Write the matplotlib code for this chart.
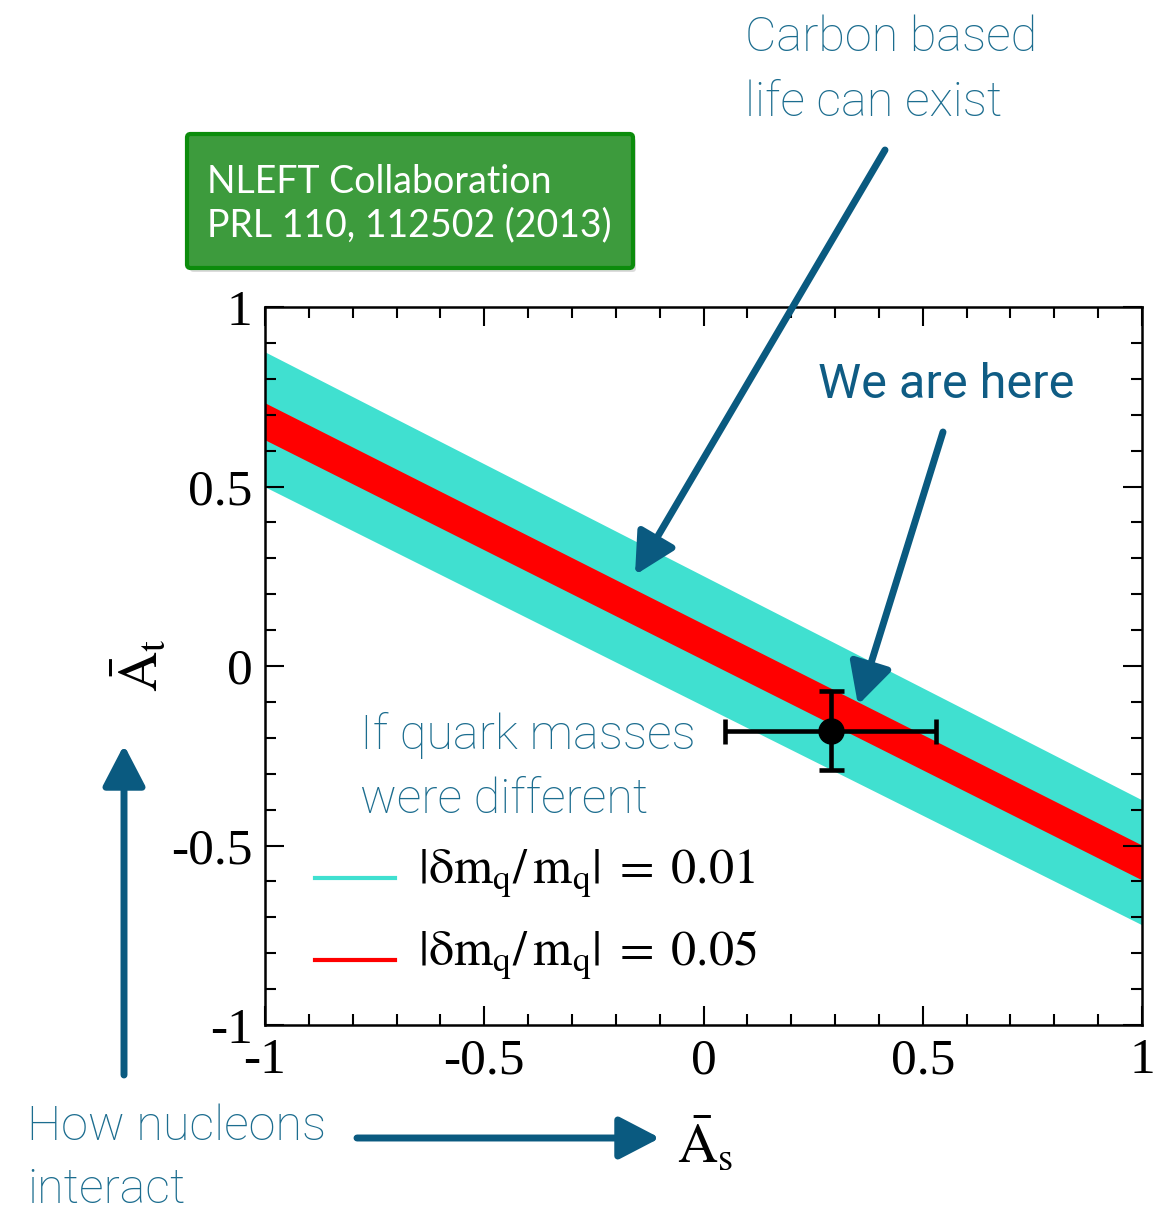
import numpy as np
import matplotlib.pyplot as plt
from matplotlib.patches import FancyBboxPatch, FancyArrowPatch
from matplotlib.ticker import MultipleLocator

plt.rcParams['mathtext.fontset'] = 'stix'

# band edges at x = -1 and x = 1
band_x = [-1, 1]
cyan_upper = [0.875, -0.373]
cyan_lower = [0.499, -0.721]
red_upper = [0.733, -0.499]
red_lower = [0.630, -0.596]

# "we are here" point
pt_x = [0.29]
pt_y = [-0.18]
pt_xerr = [0.24]
pt_yerr = [0.11]

tick_vals = [-1, -0.5, 0, 0.5, 1]
tick_labels = ['-1', '-0.5', '0', '0.5', '1']
legend_labels = [r'$|\mathrm{\delta m_q}/\,\mathrm{m_q}|\;=\;0.01$',
                 r'$|\mathrm{\delta m_q}/\,\mathrm{m_q}|\;=\;0.05$']

W, H = 1173, 1212
fig = plt.figure(figsize=(W / 100, H / 100), dpi=100)
ax = fig.add_axes([265 / W, 1 - 1025 / H, 877 / W, 718 / H])

cyan = '#40e0d0'
red = '#ff0000'
ax.fill_between(band_x, cyan_lower, cyan_upper, color=cyan, lw=0)
ax.fill_between(band_x, red_lower, red_upper, color=red, lw=0)
ax.errorbar(pt_x, pt_y, xerr=pt_xerr, yerr=pt_yerr, fmt='o', color='black',
            ms=18, elinewidth=3.3, capsize=9, capthick=3.3, zorder=5)

ax.set_xlim(-1, 1)
ax.set_ylim(-1, 1)
ax.xaxis.set_minor_locator(MultipleLocator(0.1))
ax.yaxis.set_minor_locator(MultipleLocator(0.1))
ax.tick_params(which='both', direction='in', top=True, right=True, width=1.5)
ax.tick_params(which='major', length=14, labelsize=37, pad=9)
ax.tick_params(which='minor', length=8)
ax.set_xticks(tick_vals)
ax.set_xticklabels(tick_labels, family='Liberation Serif')
ax.set_yticks(tick_vals)
ax.set_yticklabels(tick_labels, family='Liberation Serif')
for s in ax.spines.values():
    s.set_linewidth(1.8)

# legend lines drawn by hand in axes fraction
leg = [(cyan, legend_labels[0], 878), (red, legend_labels[1], 960)]
for col, lab, py in leg:
    ax.plot([(315 - 265) / 877, (395 - 265) / 877], [(1025 - py) / 718] * 2,
            color=col, lw=3, transform=ax.transAxes, clip_on=False)
    ax.text((418 - 265) / 877, (1025 - py + 4) / 718, lab, transform=ax.transAxes,
            fontsize=36, va='center', ha='left')

# axis labels
fig.text(140 / W, 1 - 665 / H, r'$\bar{\mathrm{A}}_\mathrm{t}$', fontsize=40,
         rotation=90, ha='center', va='center')
fig.text(705 / W, 1 - 1145 / H, r'$\bar{\mathrm{A}}_\mathrm{s}$', fontsize=40,
         ha='center', va='center')

# annotation text
blue_txt = '#1c6d8f'
afont = dict(family='Roboto', weight='light', color=blue_txt, fontsize=35)
fig.text(745 / W, 1 - 38 / H, 'Carbon based', va='center', **afont)
fig.text(745 / W, 1 - 103 / H, 'life can exist', va='center', **afont)
fig.text(360 / W, 1 - 735 / H, 'If quark masses', va='center', **afont)
fig.text(360 / W, 1 - 800 / H, 'were different', va='center', **afont)
fig.text(27 / W, 1 - 1127 / H, 'How nucleons', va='center', **afont)
fig.text(27 / W, 1 - 1190 / H, 'interact', va='center', **afont)
fig.text(818 / W, 1 - 385 / H, 'We are here', va='center', family='Roboto',
         color='#0f5c84', fontsize=35)

# arrows in pixel coords
arrow_col = '#0a5a80'
arrows = [((885, 150), (635, 575)), ((943, 432), (858, 705)),
          ((124, 1075), (124, 745)), ((357, 1138), (660, 1138))]
for (x0, y0), (x1, y1) in arrows:
    fig.add_artist(FancyArrowPatch(
        (x0, H - y0), (x1, H - y1),
        transform=None, arrowstyle='-|>,head_length=25,head_width=13',
        color=arrow_col, lw=5, shrinkA=0, shrinkB=0, mutation_scale=1))

# green box with shadow
shadow = FancyBboxPatch((190 / W, 1 - 272 / H), 446 / W, 134 / H,
                        boxstyle='round,pad=0,rounding_size=0.003',
                        transform=fig.transFigure, fc='#bbbbbb', ec='none',
                        alpha=0.5)
fig.add_artist(shadow)
box = FancyBboxPatch((187 / W, 1 - 268 / H), 446 / W, 134 / H,
                     boxstyle='round,pad=0,rounding_size=0.003',
                     transform=fig.transFigure, fc='#3d9b3d', ec='#0c8c0c',
                     lw=3)
fig.add_artist(box)
fig.text(207 / W, 1 - 182 / H, 'NLEFT Collaboration', va='center', color='white',
         family='Lato', fontsize=27)
fig.text(207 / W, 1 - 225 / H, 'PRL 110, 112502 (2013)', va='center', color='white',
         family='Lato', fontsize=27)

fig.savefig('out.png', dpi=100)
